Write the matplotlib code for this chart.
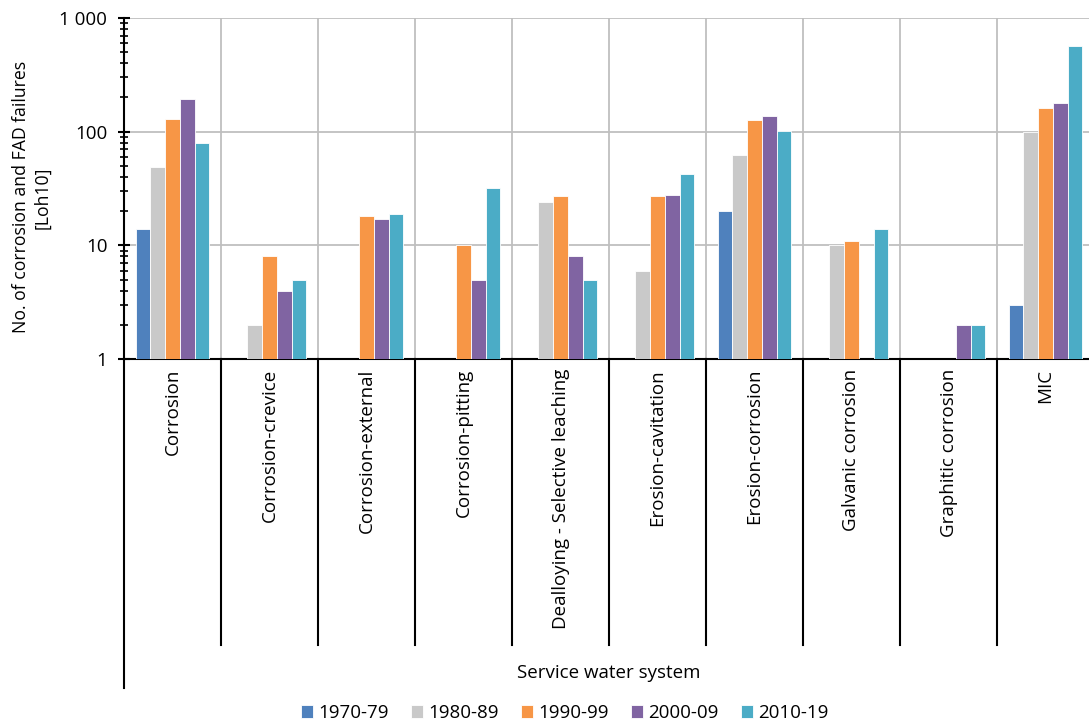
import numpy as np
import matplotlib
matplotlib.use("Agg")
import matplotlib.pyplot as plt
import matplotlib.transforms as mtransforms
from matplotlib.ticker import FixedLocator, LogLocator, NullFormatter

plt.rcParams['font.family'] = ['Open Sans', 'DejaVu Sans']

categories = ["Corrosion", "Corrosion-crevice", "Corrosion-external", "Corrosion-pitting",
              "Dealloying - Selective leaching", "Erosion-cavitation", "Erosion-corrosion",
              "Galvanic corrosion", "Graphitic corrosion", "MIC"]
series_names = ["1970-79", "1980-89", "1990-99", "2000-09", "2010-19"]
s1970 = [14, 0, 0, 0, 0, 0, 20, 0, 0, 3]
s1980 = [49, 2, 0, 0, 24, 6, 62, 10, 0, 100]
s1990 = [130, 8, 18, 10, 27, 27, 126, 11, 0, 160]
s2000 = [195, 4, 17, 5, 8, 28, 137, 0, 2, 180]
s2010 = [80, 5, 19, 32, 5, 42, 102, 14, 2, 570]
series = [s1970, s1980, s1990, s2000, s2010]
colors = ["#4F81BD", "#C9C9C9", "#F79646", "#8064A2", "#4BACC6"]
ytick_vals = [1, 10, 100, 1000]
ytick_labels = ["1", "10", "100", "1 000"]
xlabel = "Service water system"
ylabel = "No. of corrosion and FAD failures\n[Loh10]"

FS = 13.5
W, H = 1089, 726
fig = plt.figure(figsize=(W / 100, H / 100), dpi=100)
left_px, right_px, top_px, bot_px = 124, 1094, 18, 359
ax = fig.add_axes([left_px / W, 1 - bot_px / H, (right_px - left_px) / W, (bot_px - top_px) / H])

n = len(categories)
x = np.arange(n)
bw = 0.152
for i, (vals, c, name) in enumerate(zip(series, colors, series_names)):
    v = np.array(vals, dtype=float)
    mask = v > 0
    pos = x + (i - 2) * bw
    ax.bar(pos[mask], v[mask], width=bw, color=c, edgecolor="white",
           linewidth=0.6, zorder=3, label=name)

ax.set_yscale("log")
ax.set_ylim(1, 1000)
ax.set_xlim(-0.5, n - 0.5)

# Gridlines
for yv in [10, 100, 1000]:
    ax.axhline(yv, color="#BFBFBF", linewidth=1.3, zorder=1)
for b in np.arange(0.5, n - 0.5, 1):
    ax.axvline(b, color="#BFBFBF", linewidth=1.3, zorder=1)

ax.yaxis.set_major_locator(FixedLocator(ytick_vals))
ax.set_yticklabels(ytick_labels)
ax.yaxis.set_minor_locator(LogLocator(base=10, subs=np.arange(2, 10)))
ax.yaxis.set_minor_formatter(NullFormatter())
ax.tick_params(axis="y", which="major", direction="inout", length=8, width=1.5, labelsize=FS, pad=8)
ax.tick_params(axis="y", which="minor", direction="inout", length=6, width=1.2)
ax.set_xticks([])

for s in ["top", "right"]:
    ax.spines[s].set_visible(False)
ax.spines["left"].set_linewidth(1.5)
ax.spines["bottom"].set_linewidth(1.5)

ax.set_ylabel(ylabel, fontsize=12.7, linespacing=1.25)
ax.yaxis.set_label_coords(-0.0745, 0.474)

# Multi-level category axis
trans = mtransforms.blended_transform_factory(ax.transData, ax.transAxes)
ax_h = bot_px - top_px
div_bottom = (bot_px - 645) / ax_h
outer_bottom = (bot_px - 688) / ax_h
ax.plot([-0.5, -0.5], [0, outer_bottom], transform=trans, color="black", lw=1.5, clip_on=False)
for b in np.arange(0.5, n - 0.5, 1):
    ax.plot([b, b], [0, div_bottom], transform=trans, color="black", lw=1.5, clip_on=False)
label_top = (bot_px - 369) / ax_h
for xi, cat in zip(x, categories):
    ax.text(xi, label_top, cat, transform=trans, rotation=90, ha="center", va="top", fontsize=FS)
ax.text((n - 1) / 2, (bot_px - 673) / ax_h, xlabel, transform=trans, ha="center", va="center", fontsize=FS)

handles, labels = ax.get_legend_handles_labels()
fig.legend(handles, labels, loc="center", bbox_to_anchor=(565 / W, 1 - 713 / H), ncol=5,
           frameon=False, fontsize=FS, handlelength=0.64, handleheight=0.64,
           handletextpad=0.27, columnspacing=1.2, borderpad=0, borderaxespad=0)

fig.savefig("out.png", dpi=100)
